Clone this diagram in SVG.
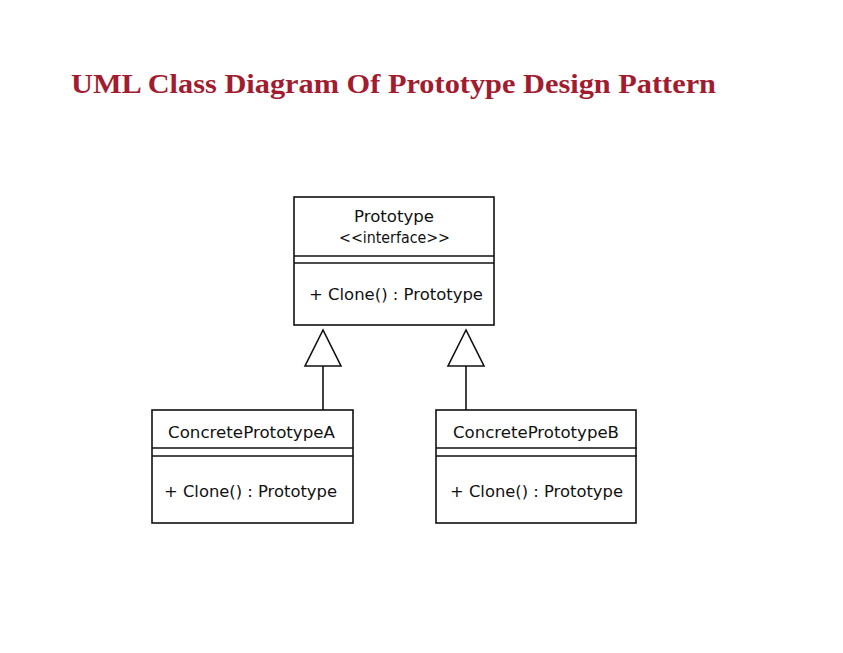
<svg xmlns="http://www.w3.org/2000/svg" width="843" height="653" viewBox="0 0 843 653">
<style>
.box{fill:#fff;stroke:#111;stroke-width:1.6}
.ln{stroke:#111;stroke-width:1.6;fill:none}
.t{font-family:"DejaVu Sans","Noto Sans",sans-serif;font-size:16.5px;fill:#111}
.title{font-family:"Liberation Serif","DejaVu Serif",serif;font-weight:bold;font-size:28px;fill:#a21c30}
</style>
<rect width="843" height="653" fill="#fff"/>
<text class="title" x="71" y="93" textLength="645" lengthAdjust="spacingAndGlyphs">UML Class Diagram Of Prototype Design Pattern</text>
<g id="connectors">
<line class="ln" x1="323" y1="366" x2="323" y2="410"/>
<polygon class="ln" points="323,330 305,366 341,366" fill="#fff"/>
<line class="ln" x1="466" y1="366" x2="466" y2="410"/>
<polygon class="ln" points="466,330 448,366 484,366" fill="#fff"/>
</g>
<g id="prototype">
<rect class="box" x="294" y="197" width="200" height="128"/>
<line class="ln" x1="294" y1="256" x2="494" y2="256"/>
<line class="ln" x1="294" y1="263" x2="494" y2="263"/>
<text class="t" x="354" y="222" textLength="80" lengthAdjust="spacingAndGlyphs">Prototype</text>
<text class="t" x="339" y="243" textLength="111" lengthAdjust="spacingAndGlyphs">&lt;&lt;interface&gt;&gt;</text>
<text class="t" x="309" y="300" textLength="174" lengthAdjust="spacingAndGlyphs">+ Clone() : Prototype</text>
</g>
<g id="concreteA">
<rect class="box" x="152" y="410" width="201" height="113"/>
<line class="ln" x1="152" y1="448" x2="353" y2="448"/>
<line class="ln" x1="152" y1="456" x2="353" y2="456"/>
<text class="t" x="168" y="438" textLength="167" lengthAdjust="spacingAndGlyphs">ConcretePrototypeA</text>
<text class="t" x="164" y="497" textLength="173" lengthAdjust="spacingAndGlyphs">+ Clone() : Prototype</text>
</g>
<g id="concreteB">
<rect class="box" x="436" y="410" width="200" height="113"/>
<line class="ln" x1="436" y1="448" x2="637" y2="448"/>
<line class="ln" x1="436" y1="456" x2="637" y2="456"/>
<text class="t" x="453" y="438" textLength="166" lengthAdjust="spacingAndGlyphs">ConcretePrototypeB</text>
<text class="t" x="450" y="497" textLength="173" lengthAdjust="spacingAndGlyphs">+ Clone() : Prototype</text>
</g>
</svg>
